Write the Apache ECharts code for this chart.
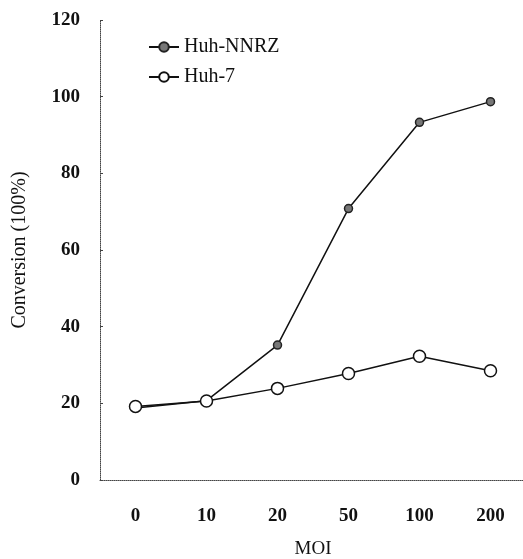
<!DOCTYPE html>
<html>
<head>
<meta charset="utf-8">
<script src="https://cdn.jsdelivr.net/npm/echarts@6/dist/echarts.min.js"></script>
<style>
  html, body { margin: 0; padding: 0; background: #fff; }
  #chart { width: 523px; height: 559px; }
</style>
</head>
<body>
<div id="chart"></div>
<script>
// data
var moi = ["0", "10", "20", "50", "100", "200"];
var huhNNRZ = [18.8, 20.7, 35.2, 70.8, 93.3, 98.7];
var huh7 = [19.2, 20.6, 23.9, 27.8, 32.3, 28.5];

var myChart = echarts.init(document.getElementById("chart"));
var serif = "Liberation Serif";

var option = {
  backgroundColor: "#fff",
  animation: false,
  grid: { left: 100, top: 20, width: 426, height: 460, outerBoundsMode: "none" },
  legend: {
    orient: "vertical",
    left: 143,
    top: 32,
    itemGap: 10,
    itemWidth: 30,
    itemHeight: 12,
    textStyle: { fontFamily: serif, fontSize: 20, color: "#111" },
    data: ["Huh-NNRZ", "Huh-7"]
  },
  xAxis: {
    type: "category",
    data: moi,
    name: "MOI",
    nameLocation: "middle",
    nameGap: 60,
    nameTextStyle: { fontFamily: serif, fontSize: 19, color: "#111" },
    axisLine: { lineStyle: { color: "#444", type: "dotted", width: 1 } },
    axisTick: { inside: true, length: 3, lineStyle: { color: "#666" } },
    axisLabel: { margin: 27, fontFamily: serif, fontSize: 19, fontWeight: "bold", color: "#111" },
    splitLine: { show: false }
  },
  yAxis: {
    type: "value",
    min: 0,
    max: 120,
    interval: 20,
    name: "Conversion (100%)",
    nameLocation: "middle",
    nameGap: 70,
    nameTextStyle: { fontFamily: serif, fontSize: 20, color: "#111" },
    axisLine: { show: true, lineStyle: { color: "#444", type: "dotted", width: 1 } },
    axisTick: { show: true, inside: true, length: 3, lineStyle: { color: "#444" } },
    axisLabel: { margin: 20, fontFamily: serif, fontSize: 19, fontWeight: "bold", color: "#111" },
    splitLine: { show: false }
  },
  series: [
    {
      name: "Huh-NNRZ",
      type: "line",
      data: huhNNRZ,
      symbol: "circle",
      symbolSize: 8,
      lineStyle: { color: "#111", width: 1.5 },
      itemStyle: { color: "#777", borderColor: "#222", borderWidth: 1.5 }
    },
    {
      name: "Huh-7",
      type: "line",
      data: huh7,
      symbol: "circle",
      symbolSize: 12,
      lineStyle: { color: "#111", width: 1.5 },
      itemStyle: { color: "#fff", borderColor: "#111", borderWidth: 1.5 }
    }
  ]
};
myChart.setOption(option);
</script>
</body>
</html>
